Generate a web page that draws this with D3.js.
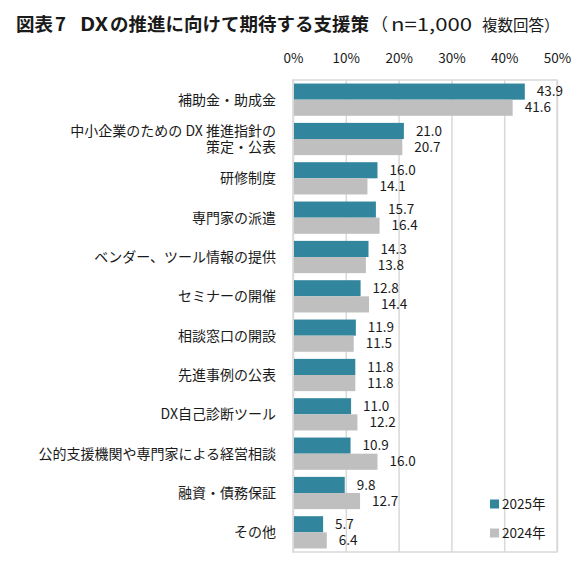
<!DOCTYPE html>
<html>
<head>
<meta charset="utf-8">
<script src="https://cdn.jsdelivr.net/npm/d3@7"></script>
<style>
  body { margin: 0; background: #fff; }
  text { font-family: "Noto Sans CJK JP", "Noto Sans", sans-serif; fill: #1a1a1a; }
</style>
</head>
<body>
<div id="chart"></div>
<script>
// categories (top to bottom), multi-line labels split by "\n"
var categories = [
  "補助金・助成金",
  "中小企業のための DX 推進指針の\n策定・公表",
  "研修制度",
  "専門家の派遣",
  "ベンダー、ツール情報の提供",
  "セミナーの開催",
  "相談窓口の開設",
  "先進事例の公表",
  "DX自己診断ツール",
  "公的支援機関や専門家による経営相談",
  "融資・債務保証",
  "その他"
]
var values2025 = [43.9, 21.0, 16.0, 15.7, 14.3, 12.8, 11.9, 11.8, 11.0, 10.9, 9.8, 5.7]
var values2024 = [41.6, 20.7, 14.1, 16.4, 13.8, 14.4, 11.5, 11.8, 12.2, 16.0, 12.7, 6.4]
var seriesNames = ["2025年", "2024年"]
var tickValues = [0, 10, 20, 30, 40, 50]

var colors = ["#31859c", "#bfbfbf"]

var width = 577, height = 566
var plot = { left: 293, right: 557, top: 80, bottom: 552 }

var svg = d3.select("#chart").append("svg")
  .attr("width", width)
  .attr("height", height)

// title (pieces placed to follow the wide spacing of the original)
var title = svg.append("g").attr("transform", "translate(0,31)")
var titleParts = [
  { t: "図表", x: 16, size: 18.5, bold: true },
  { t: "7", x: 55, size: 18.5, bold: true },
  { t: "DX", x: 80, size: 18.5, bold: true, len: 28 },
  { t: "の推進に向けて期待する支援策", x: 110, size: 18.5, bold: true },
  { t: "（", x: 371, size: 17, bold: false },
  { t: "n=1,000", x: 391, size: 18, bold: false, len: 81 },
  { t: "複数回答）", x: 482, size: 15.5, bold: false }
]
titleParts.forEach(function(p) {
  var t = title.append("text").attr("x", p.x).text(p.t)
    .style("font-size", p.size + "px")
    .style("font-weight", p.bold ? "bold" : "normal")
  if (p.len) t.attr("textLength", p.len).attr("lengthAdjust", "spacingAndGlyphs")
})

var x = d3.scaleLinear().domain([0, 50]).range([plot.left, plot.right])
var y = d3.scaleBand().domain(d3.range(categories.length))
  .range([plot.top, plot.bottom])
  .paddingInner(0.18)
  .paddingOuter(0.09)
var ySub = d3.scaleBand().domain([0, 1]).range([0, y.bandwidth()])

// grid + top axis labels
var axis = svg.append("g")
  .attr("transform", "translate(0," + plot.top + ")")
  .call(d3.axisTop(x)
    .tickValues(tickValues)
    .tickFormat(function(d) { return d + "%" })
    .tickSize(-(plot.bottom - plot.top))
    .tickPadding(17))
axis.select(".domain").remove()
axis.selectAll(".tick line").attr("stroke", "#d9d9d9").attr("stroke-width", 1.5)
axis.selectAll(".tick text").style("font-size", "13.5px").attr("fill", "#1a1a1a")

// plot border
svg.append("rect")
  .attr("x", plot.left).attr("y", plot.top)
  .attr("width", plot.right - plot.left)
  .attr("height", plot.bottom - plot.top)
  .attr("fill", "none")
  .attr("stroke", "#d9d9d9")
  .attr("stroke-width", 1.5)

var series = [values2025, values2024]

series.forEach(function(vals, s) {
  var g = svg.append("g")
  g.selectAll("rect")
    .data(vals)
    .enter()
    .append("rect")
      .attr("x", x(0) + 1)
      .attr("y", function(d, i) { return y(i) + ySub(s) })
      .attr("width", function(d) { return x(d) - x(0) - 1 })
      .attr("height", ySub.bandwidth())
      .attr("fill", colors[s])
  g.selectAll("text")
    .data(vals)
    .enter()
    .append("text")
      .attr("x", function(d) { return x(d) + 12 })
      .attr("y", function(d, i) { return y(i) + ySub(s) + ySub.bandwidth() / 2 })
      .attr("dy", "0.35em")
      .style("font-size", "13.5px")
      .text(function(d) { return d.toFixed(1) })
})

// category labels
svg.append("g").selectAll("text")
  .data(categories)
  .enter()
  .append("text")
    .attr("text-anchor", "end")
    .attr("y", function(d, i) { return y(i) + y.bandwidth() / 2 })
    .style("font-size", "14px")
    .each(function(d) {
      var lines = d.split("\n")
      var t = d3.select(this)
      lines.forEach(function(line, k) {
        t.append("tspan")
          .attr("x", 276)
          .attr("dy", k === 0 ? (0.35 - (lines.length - 1) * 0.57) + "em" : "1.14em")
          .text(line)
      })
    })

// legend
var legend = svg.append("g")
seriesNames.forEach(function(name, s) {
  var ly = 504 + s * 29
  legend.append("rect")
    .attr("x", 490).attr("y", ly - 4.5)
    .attr("width", 9).attr("height", 9)
    .attr("fill", colors[s])
  legend.append("text")
    .attr("x", 502).attr("y", ly)
    .attr("dy", "0.35em")
    .style("font-size", "13.5px")
    .text(name)
})
</script>
</body>
</html>
